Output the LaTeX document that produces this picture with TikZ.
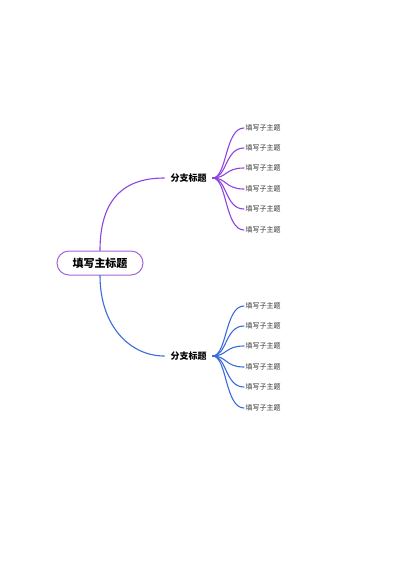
\documentclass[tikz,border=0pt]{standalone}
\usepackage{fontspec}
\newfontfamily\cjk{Noto Sans CJK SC}
\definecolor{purp}{HTML}{8E44E0}
\definecolor{blu}{HTML}{3A6CDB}
\definecolor{rootc}{HTML}{A566DA}
\begin{document}
\begin{tikzpicture}[x=1pt,y=-1pt,
  rootbox/.style={draw=rootc,line width=1pt,rounded corners=12pt,minimum width=86pt,minimum height=24pt,font=\cjk\fontsize{11}{13}\selectfont\bfseries,inner sep=0pt},
  branchnode/.style={font=\cjk\fontsize{9}{11}\selectfont\bfseries,inner xsep=6pt,inner ysep=2pt},
  leafnode/.style={font=\cjk\fontsize{7}{9}\selectfont,anchor=west,inner xsep=1.5pt,inner ysep=1pt,text=black!80},
  conn/.style={line width=1.1pt,line cap=round}]
\useasboundingbox (0,0) rectangle (400,566);
\fill[white] (0,0) rectangle (400,566);
\node[rootbox] (root) at (100,263) {填写主标题};
\node[branchnode] (b1) at (188.5,178) {分支标题};
\node[branchnode] (b2) at (188.5,356) {分支标题};
\draw[conn,purp] (root.north) .. controls (100,201) and (122,178) .. (b1.west);
\draw[conn,blu] (root.south) .. controls (100,326) and (130,356) .. (b2.west);
\foreach \i/\y in {1/128,2/148,3/168,4/189,5/209,6/230}{
  \node[leafnode] (t\i) at (244,\y) {填写子主题};
  \draw[conn,purp] (b1.east) .. controls (227,178) and (225,\y) .. (t\i.west);
}
\foreach \i/\y in {1/306,2/326,3/346,4/367,5/387,6/408}{
  \node[leafnode] (u\i) at (244,\y) {填写子主题};
  \draw[conn,blu] (b2.east) .. controls (227,356) and (225,\y) .. (u\i.west);
}
\end{tikzpicture}
\end{document}
